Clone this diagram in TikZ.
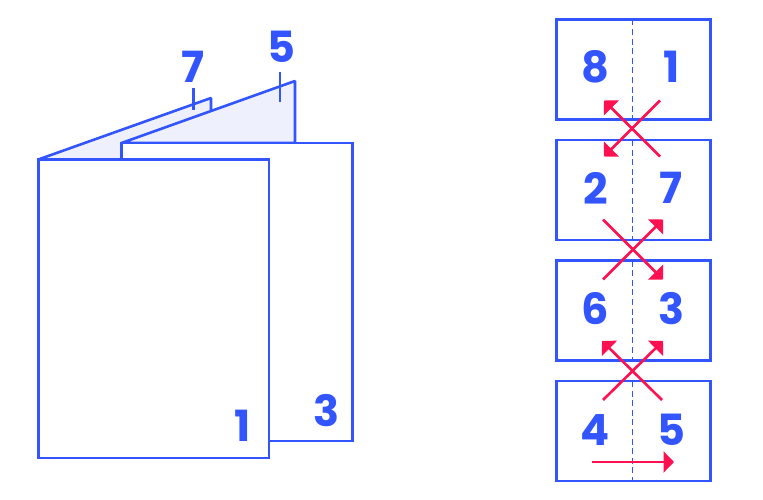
\documentclass[tikz,border=0pt]{standalone}
\usepackage{fontspec}
\setmainfont{Poppins}
\usetikzlibrary{arrows.meta}
\definecolor{ink}{HTML}{3355FF}
\definecolor{hot}{HTML}{FF1050}
\definecolor{flap}{HTML}{EEF1FD}
\tikzset{
  x=1pt,y=-1pt,
  edge/.style={draw=ink,line width=2.6pt,line join=miter},
  tickmark/.style={draw=ink,line width=2.2pt},
  page/.style={edge,fill=white,inner sep=0pt,outer sep=0pt,minimum width=154pt,minimum height=100pt,anchor=north west},
  fold/.style={draw=ink,line width=1.8pt,dash pattern=on 6pt off 3.6pt},
  num/.style={text=ink,font=\fontsize{43}{43}\selectfont\bfseries,inner sep=0pt,anchor=center},
  swap/.style={draw=hot,line width=2.6pt,-{Triangle[length=10.5pt,width=21pt]}},
}
\begin{document}
\begin{tikzpicture}
\useasboundingbox (0,0) rectangle (763,500);
% folded booklet
\draw[edge,fill=flap,line join=bevel] (38.3,159.5) -- (211,98) -- (211,125) -- (121.5,159.5) -- cycle;
\draw[edge,fill=flap,line join=bevel] (121.5,143) -- (295,81) -- (295,143) -- cycle;
\draw[edge,fill=white] (121.5,159.5) -- (121.5,143) -- (352.5,143) -- (352.5,441) -- (269,441) -- (269,159.5) -- cycle;
\draw[edge,fill=white] (38.3,159.5) rectangle (269,458);
\draw[tickmark] (193.5,88) -- (193.5,110);
\draw[tickmark] (280,72) -- (280,102);
\node[num] at (193.5,67) {7};
\node[num] at (281,47) {5};
\node[num] at (243,426) {1};
\node[num] at (326.5,411) {3};
% spreads
\node[page] (a) at (556.5,19.5) {};
\node[page] (b) at (556.5,140) {};
\node[page] (c) at (556.5,260.5) {};
\node[page] (d) at (556.5,381) {};
\foreach \p in {a,b,c,d}{\draw[fold] ([xshift=-1pt]\p.north) -- ([xshift=-1pt]\p.south);}
\node[num] (a1) at (595.5,67) {8};
\node[num] (a2) at (671.5,67) {1};
\node[num] (b1) at (596,188) {2};
\node[num] (b2) at (671,188) {7};
\node[num] (c1) at (595.5,309) {6};
\node[num] (c2) at (671,309) {3};
\node[num] (d1) at (595.5,430) {4};
\node[num] (d2) at (671,430) {5};
% reading order
\coordinate (p1) at (660,100.5);
\coordinate (p2) at (604,156.5);
\coordinate (p3) at (660,156.5);
\coordinate (p4) at (604,100.5);
\coordinate (q1) at (603,219.5);
\coordinate (q2) at (663,279.5);
\coordinate (q3) at (603,279.5);
\coordinate (q4) at (663,219.5);
\coordinate (r1) at (603,400);
\coordinate (r2) at (663,341);
\coordinate (r3) at (662,400);
\coordinate (r4) at (602,341);
\coordinate (s1) at (592,462);
\coordinate (s2) at (674,462);
\draw[swap] (p1) -- (p2);
\draw[swap] (p3) -- (p4);
\draw[swap] (q1) -- (q2);
\draw[swap] (q3) -- (q4);
\draw[swap] (r1) -- (r2);
\draw[swap] (r3) -- (r4);
\draw[swap] (s1) -- (s2);
\end{tikzpicture}
\end{document}
